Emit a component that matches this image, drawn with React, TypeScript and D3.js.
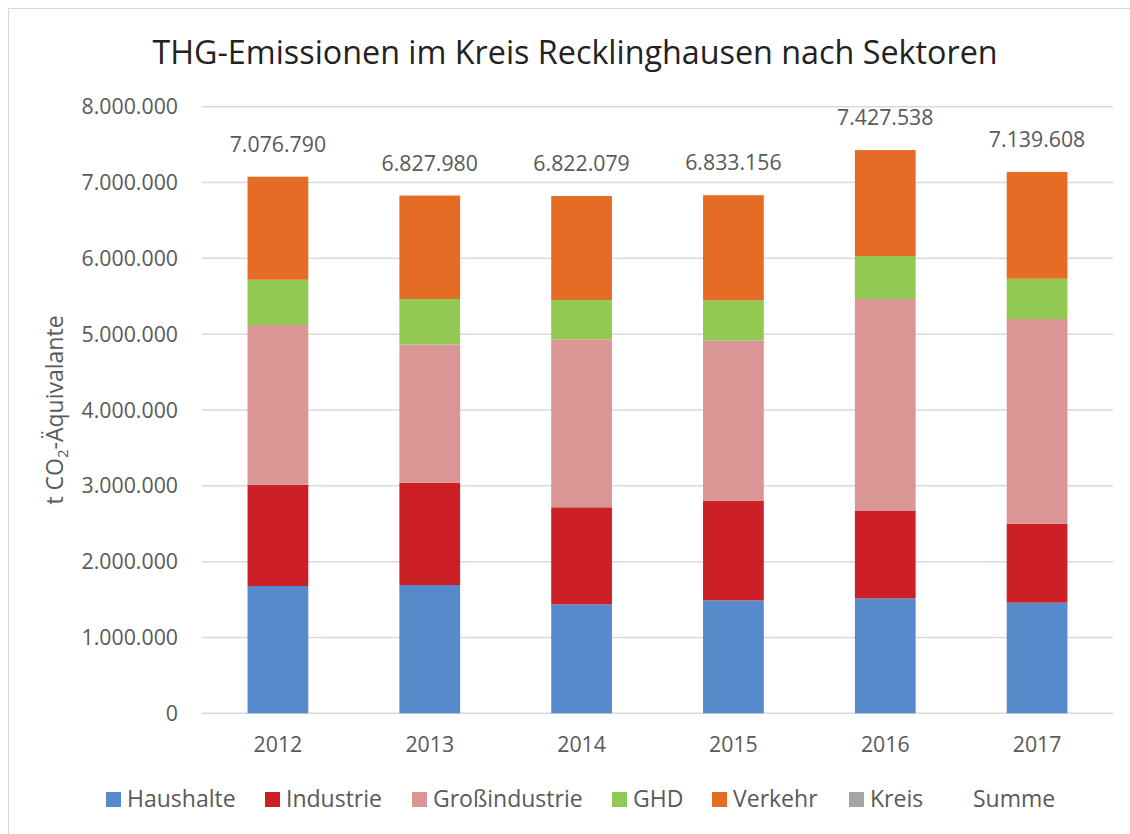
import React from "react";
import * as d3 from "d3";

const years = ["2012", "2013", "2014", "2015", "2016", "2017"];
const haushalte = [1679000, 1692000, 1437000, 1490000, 1517000, 1459000];
const industrie = [1336000, 1349000, 1280000, 1314000, 1151000, 1041000];
const grossindustrie = [2106000, 1825000, 2215000, 2115000, 2796000, 2700000];
const ghd = [597000, 598000, 518000, 527000, 567000, 531000];
const verkehr = [1359000, 1364000, 1372000, 1387000, 1397000, 1409000];
const kreis = [0, 0, 0, 0, 0, 0];
const summe = [7076790, 6827980, 6822079, 6833156, 7427538, 7139608];
const yTicks = [0, 1000000, 2000000, 3000000, 4000000, 5000000, 6000000, 7000000, 8000000];

const seriesNames = ["Haushalte", "Industrie", "Großindustrie", "GHD", "Verkehr", "Kreis"];
const seriesColors = ["#578ACA", "#CC1F26", "#DA9694", "#92C952", "#E46C25", "#A5A5A5"];
const seriesValues = [haushalte, industrie, grossindustrie, ghd, verkehr, kreis];

const de = d3.formatLocale({ decimal: ",", thousands: ".", grouping: [3], currency: ["", " €"] });
const fmt = de.format(",d");

const FONT = "'Open Sans', sans-serif";
const GREY = "#595959";

export default function App() {
  const margin = { left: 202, right: 1113, top: 106.7, bottom: 713.3 };

  const x = d3.scaleBand().domain(years).range([margin.left, margin.right]).paddingInner(0.6).paddingOuter(0.3);
  const y = d3.scaleLinear().domain([0, 8000000]).range([margin.bottom, margin.top]);

  const rows = years.map((yr, i) => {
    const r: any = { year: yr };
    seriesNames.forEach((n, k) => (r[n] = seriesValues[k][i]));
    return r;
  });
  const stacked = d3.stack().keys(seriesNames)(rows);

  // legend square positions
  const legendX = [106, 265, 412, 612, 712, 849];

  return (
    <div style={{ position: "absolute", left: 0, top: 0 }}>
      <svg width={1130} height={834} style={{ display: "block", background: "#fff" }}>
        <rect x={8.5} y={8.5} width={1140} height={840} fill="#fff" stroke="#d9d9d9" strokeWidth={1} />
        <text x={575} y={64} textAnchor="middle" fontFamily={FONT} fontSize={32.3} fill="#222">
          THG-Emissionen im Kreis Recklinghausen nach Sektoren
        </text>

        {yTicks.map((t) => (
          <g key={t}>
            <line x1={margin.left} x2={margin.right} y1={y(t)} y2={y(t)} stroke="#d9d9d9" strokeWidth={1.5} />
            <text x={178} y={y(t)} dy="0.36em" textAnchor="end" fontFamily={FONT} fontSize={21.3} fill={GREY}>
              {fmt(t)}
            </text>
          </g>
        ))}

        {stacked.map((s, k) => (
          <g key={s.key} fill={seriesColors[k]}>
            {s.map((d: any, i) => (
              <rect
                key={i}
                x={x(years[i])}
                width={x.bandwidth()}
                y={y(d[1])}
                height={Math.max(0, y(d[0]) - y(d[1]))}
              />
            ))}
          </g>
        ))}

        {years.map((yr, i) => (
          <text
            key={yr}
            x={(x(yr) as number) + x.bandwidth() / 2}
            y={y(summe[i]) - 25}
            textAnchor="middle"
            fontFamily={FONT}
            fontSize={21.3}
            fill={GREY}
          >
            {fmt(summe[i])}
          </text>
        ))}

        {years.map((yr) => (
          <text
            key={yr}
            x={(x(yr) as number) + x.bandwidth() / 2}
            y={752}
            textAnchor="middle"
            fontFamily={FONT}
            fontSize={21.3}
            fill={GREY}
          >
            {yr}
          </text>
        ))}

        <text
          transform={`translate(63, ${(margin.top + margin.bottom) / 2}) rotate(-90)`}
          textAnchor="middle"
          fontFamily={FONT}
          fontSize={23}
          fill={GREY}
        >
          t CO<tspan fontSize={15} dy={5}>2</tspan>
          <tspan dy={-5}>-Äquivalante</tspan>
        </text>

        {seriesNames.map((n, k) => (
          <g key={n}>
            <rect x={legendX[k]} y={792} width={15} height={15} fill={seriesColors[k]} />
            <text x={legendX[k] + 21} y={807} fontFamily={FONT} fontSize={23} fill={GREY}>
              {n}
            </text>
          </g>
        ))}
        <text x={973} y={807} fontFamily={FONT} fontSize={23} fill={GREY}>
          Summe
        </text>
      </svg>
    </div>
  );
}
